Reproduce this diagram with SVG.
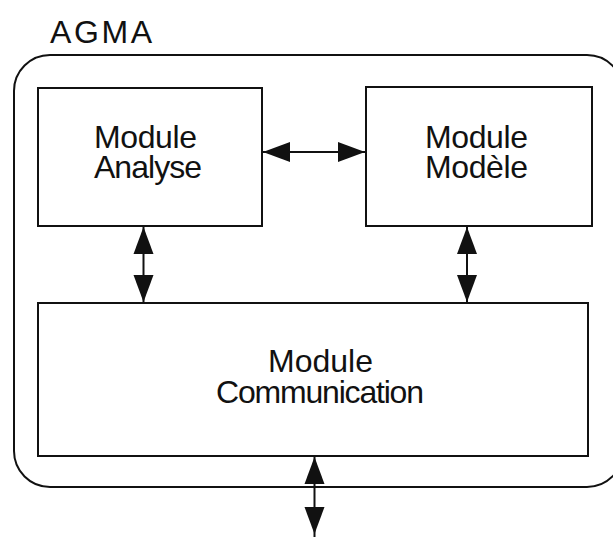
<svg xmlns="http://www.w3.org/2000/svg" width="613" height="537" viewBox="0 0 613 537">
  <style>
    .frame { fill: none; stroke: #111; stroke-width: 2; }
    .box { fill: #fff; stroke: #111; stroke-width: 2; }
    .label { font-family: "Liberation Sans", Arial, sans-serif; font-size: 32px; fill: #111; }
    .mid { text-anchor: middle; }
    .link { stroke: #111; stroke-width: 2; fill: none; }
    .head { fill: #111; stroke: none; }
  </style>
  <defs>
    <!-- filled arrowhead, tip at origin pointing along +x -->
    <polygon id="ah" class="head" points="0,0 -27,-10 -27,10"/>
  </defs>

  <rect width="613" height="537" fill="#fff"/>

  <!-- outer AGMA frame (right side runs past the canvas) -->
  <g id="agma">
    <rect class="frame" x="14" y="55" width="609" height="432" rx="36" ry="36"/>
    <text class="label" x="50" y="43" textLength="102" lengthAdjust="spacing">AGMA</text>
  </g>

  <g id="analyse">
    <rect class="box" x="38" y="88" width="224" height="138"/>
    <text class="label" x="94" y="148" textLength="103" lengthAdjust="spacing">Module</text>
    <text class="label" x="94" y="178" textLength="108" lengthAdjust="spacing">Analyse</text>
  </g>

  <g id="modele">
    <rect class="box" x="366" y="87" width="226" height="139"/>
    <text class="label" x="425" y="148" textLength="103" lengthAdjust="spacing">Module</text>
    <text class="label" x="425" y="178" textLength="103" lengthAdjust="spacing">Modèle</text>
  </g>

  <g id="communication">
    <rect class="box" x="38" y="303" width="550" height="153"/>
    <text class="label" x="268" y="372" textLength="105" lengthAdjust="spacing">Module</text>
    <text class="label" x="216" y="403" textLength="208" lengthAdjust="spacing">Communication</text>
  </g>

  <g id="connectors">
    <!-- Analyse <-> Modèle -->
    <line class="link" x1="262" y1="152" x2="366" y2="152"/>
    <use href="#ah" transform="translate(263,152) rotate(180)"/>
    <use href="#ah" transform="translate(365,152)"/>

    <!-- Analyse <-> Communication -->
    <line class="link" x1="143.5" y1="226" x2="143.5" y2="303"/>
    <use href="#ah" transform="translate(143.5,227) rotate(-90)"/>
    <use href="#ah" transform="translate(143.5,302) rotate(90)"/>

    <!-- Modèle <-> Communication -->
    <line class="link" x1="467" y1="226" x2="467" y2="303"/>
    <use href="#ah" transform="translate(467,227) rotate(-90)"/>
    <use href="#ah" transform="translate(467,302) rotate(90)"/>

    <!-- Communication <-> outside -->
    <line class="link" x1="314.5" y1="456" x2="314.5" y2="537"/>
    <use href="#ah" transform="translate(314.5,457) rotate(-90)"/>
    <use href="#ah" transform="translate(314.5,534) rotate(90)"/>
  </g>
</svg>
